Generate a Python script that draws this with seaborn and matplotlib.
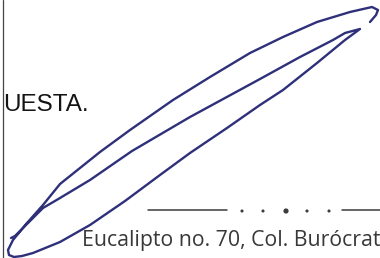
import matplotlib
matplotlib.use('Agg')
import matplotlib.pyplot as plt
import seaborn as sns
import pandas as pd

sns.set_theme(style='white')

# ink scribble (one continuous pen path, pixel coords of the scan)
scribble_x = [370, 376, 378, 372, 350, 317, 283, 250, 210, 173, 130, 100, 80, 60, 43, 27, 13, 8, 9, 14,
              22, 33, 60, 90, 125, 160, 190, 227, 260, 283, 317, 345, 360,
              345, 333, 300, 260, 225, 190, 132, 90, 60, 43, 27, 15, 11]
scribble_y = [22, 15, 10, 7, 12, 22, 37, 53, 77, 100, 130, 152, 168, 184, 205, 223, 240, 250, 255, 257,
              256, 253, 242, 225, 201, 175, 153, 128, 105, 90, 63, 40, 29,
              33, 40, 57, 79, 98, 117, 151, 180, 198, 208, 224, 236, 238]

# letterhead ornament: two rules and a row of dots
rule_left_x = [148, 227]
rule_right_x = [342, 380]
rule_y = 210
dots_x = [242, 263, 286, 307, 329]
dots_size = [5, 5, 14, 5, 5]

title_text = 'UESTA.'
address_text = 'Eucalipto no. 70, Col. Burócrat'

fig = plt.figure(figsize=(3.8, 2.58), dpi=100)
ax = fig.add_axes([0, 0, 1, 1])

ax.axvline(3, color='#444444', lw=0.9)

sns.lineplot(x=scribble_x, y=scribble_y, sort=False, estimator=None, errorbar=None,
             color='#2e307a', lw=1.7, ax=ax)

for xs in (rule_left_x, rule_right_x):
    sns.lineplot(x=xs, y=[rule_y] * len(xs), estimator=None, color='#3c3c3c', lw=1.1, ax=ax)

dots = pd.DataFrame({'x': dots_x, 'y': [rule_y + 1] * len(dots_x), 's': dots_size})
sns.scatterplot(data=dots, x='x', y='y', size='s', sizes=(5, 14), color='#3c3c3c',
                edgecolor='none', legend=False, ax=ax)

ax.text(3, 111, title_text, fontsize=17.5, family='Liberation Sans', color='#141414',
        va='baseline', ha='left')
ax.text(82, 246, address_text, fontsize=15.3, family='Open Sans', color='#383838',
        va='baseline', ha='left')

ax.set_xlim(0, 380)
ax.set_ylim(258, 0)
ax.axis('off')

fig.savefig('out.png', dpi=100, facecolor='white')
